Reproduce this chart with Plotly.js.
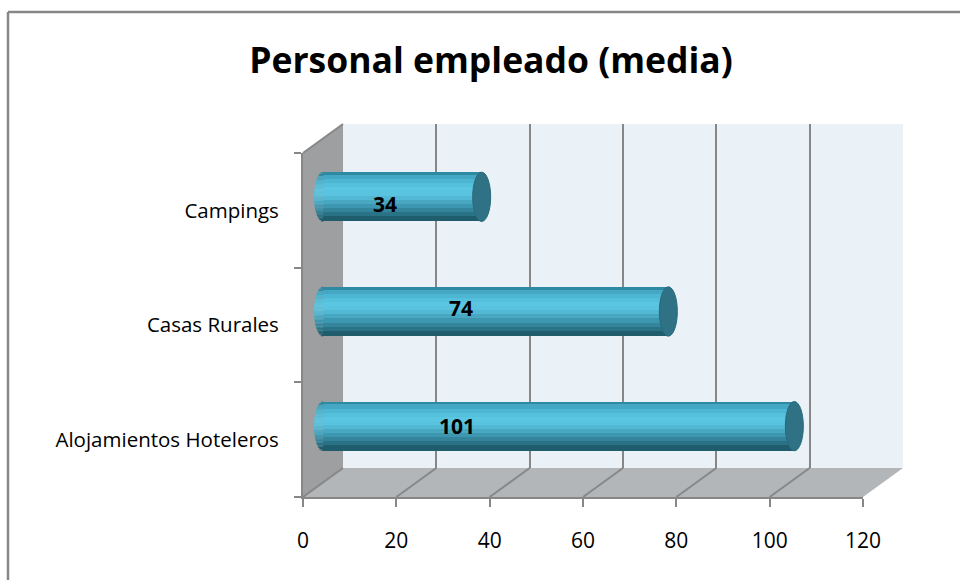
<!DOCTYPE html>
<html><head><meta charset="utf-8">
<script src="https://cdn.plot.ly/plotly-3.0.1.min.js"></script>
<style>html,body{margin:0;padding:0;background:#fff}</style>
</head><body>
<div id="chart" style="width:960px;height:580px"></div>
<script>
// ---- data ----
const categories = ["Alojamientos Hoteleros", "Casas Rurales", "Campings"];
const values = [101, 74, 34];
const xTicks = [0, 20, 40, 60, 80, 100, 120];
const xTickLabels = ["0", "20", "40", "60", "80", "100", "120"];
const chartTitle = "Personal empleado (media)";

// ---- style / geometry ----
const W = 960, H = 580;
const px = x => x / W, py = y => 1 - y / H;
const FRONT = {x0: 303, x1: 863, y0: 153, y1: 497};
const DEPTH = {dx: 40, dy: -29};
const MID = {dx: 20, dy: -14.5};
const X_MAX = 120, X_PAD = 5;
const SCALE = (FRONT.x1 - FRONT.x0) / X_MAX;
const labelPos = [28.7, 29.6, 13.3];
const labelShift = [0, 4, -7];
const BAR_W = 0.43;
const CAP = 9;
const GRID = '#878787';
const FONT = 'Open Sans';
const stripeColors = ['#2e8aa2', '#44a8c4', '#4db6d2', '#55c0dc', '#5bc6e2', '#5ac4e0',
                      '#52b8d4', '#48a8c2', '#3e97b0', '#34859c', '#2a7386', '#1f5d6d'];

const traces = [];
// category registration on the front axis
traces.push({type: 'scatter', x: values, y: categories, xaxis: 'x', yaxis: 'y', mode: 'markers',
  marker: {opacity: 0}, hoverinfo: 'skip', showlegend: false});
traces.push({type: 'scatter', x: [], y: [], xaxis: 'x2', yaxis: 'y2', hoverinfo: 'skip', showlegend: false});
// cylinder bars as horizontal stripes
const n = stripeColors.length, sw = BAR_W / n;
stripeColors.forEach((c, i) => {
  traces.push({type: 'bar', orientation: 'h', x: values, y: categories, xaxis: 'x3', yaxis: 'y3',
    offset: BAR_W / 2 - (i + 1) * sw, width: i === 0 ? sw : sw * 1.3,
    marker: {color: c, line: {width: 0}}, hoverinfo: 'skip', showlegend: false});
});

const shapes = [];
// chart frame
shapes.push({type: 'line', xref: 'paper', yref: 'paper', x0: px(8), x1: px(960), y0: py(12), y1: py(12), line: {color: GRID, width: 2.5}});
shapes.push({type: 'line', xref: 'paper', yref: 'paper', x0: px(8), x1: px(8), y0: py(12), y1: py(580), line: {color: GRID, width: 2.5}});
// back wall
shapes.push({type: 'rect', xref: 'x2 domain', yref: 'y2 domain', x0: 0, x1: 1, y0: 0, y1: 1,
  fillcolor: '#eaf2f8', line: {width: 0}, layer: 'below'});
// side wall
const sidePath = `M${px(FRONT.x0)},${py(FRONT.y0)} L${px(FRONT.x0 + DEPTH.dx)},${py(FRONT.y0 + DEPTH.dy)} L${px(FRONT.x0 + DEPTH.dx)},${py(FRONT.y1 + DEPTH.dy)} L${px(FRONT.x0)},${py(FRONT.y1)} Z`;
shapes.push({type: 'path', xref: 'paper', yref: 'paper', path: sidePath, fillcolor: '#9d9fa1', line: {width: 0}, layer: 'below'});
// floor
const floorPath = `M${px(FRONT.x0)},${py(FRONT.y1)} L${px(FRONT.x0 + DEPTH.dx)},${py(FRONT.y1 + DEPTH.dy)} L${px(FRONT.x1 + DEPTH.dx)},${py(FRONT.y1 + DEPTH.dy)} L${px(FRONT.x1)},${py(FRONT.y1)} Z`;
shapes.push({type: 'path', xref: 'paper', yref: 'paper', path: floorPath, fillcolor: '#b3b6b9', line: {width: 0}, layer: 'below'});
// side wall top slant edge
shapes.push({type: 'line', xref: 'paper', yref: 'paper', x0: px(FRONT.x0), y0: py(FRONT.y0), x1: px(FRONT.x0 + DEPTH.dx), y1: py(FRONT.y0 + DEPTH.dy),
  line: {color: GRID, width: 2}, layer: 'below'});
// floor gridlines (diagonals from each tick)
xTicks.forEach(v => {
  shapes.push({type: 'line', xref: 'x', xsizemode: 'pixel', xanchor: v, x0: 0, x1: DEPTH.dx,
    yref: 'paper', y0: py(FRONT.y1), y1: py(FRONT.y1 + DEPTH.dy), line: {color: GRID, width: 2}, layer: 'below'});
});
// cylinder end caps
const SUB = 3; // sub-stripes per colour stripe for the rounded left end
values.forEach((v, i) => {
  const top = i + BAR_W / 2;
  for (let k = 0; k < n * SUB; k++) {
    const yHi = top - k * sw / SUB, yLo = yHi - sw / SUB;
    const t = ((yHi + yLo) / 2 - i) / (BAR_W / 2);
    const hw = CAP * Math.sqrt(Math.max(0, 1 - t * t));
    shapes.push({type: 'rect', xref: 'x3', yref: 'y3', xsizemode: 'pixel', xanchor: 0, x0: -hw, x1: 0.5,
      y0: yLo, y1: yHi, fillcolor: stripeColors[Math.floor(k / SUB)], line: {width: 0}, layer: 'above'});
  }
  shapes.push({type: 'circle', xref: 'x3', yref: 'y3', xsizemode: 'pixel', xanchor: v, x0: -CAP, x1: CAP,
    y0: i - BAR_W / 2, y1: i + BAR_W / 2, fillcolor: '#2f7285', line: {color: '#2a6a7a', width: 1}, layer: 'above'});
});

const annotations = values.map((v, i) => ({
  xref: 'x3', yref: 'y3', x: labelPos[i], y: i, yshift: labelShift[i], text: String(v), showarrow: false,
  font: {family: FONT, size: 21, color: '#000', weight: 'bold'}
}));

const layout = {
  width: W, height: H, margin: {l: 0, r: 0, t: 0, b: 0},
  paper_bgcolor: '#ffffff', plot_bgcolor: 'rgba(0,0,0,0)',
  barmode: 'overlay', bargap: 0, showlegend: false,
  title: {text: chartTitle, x: 491 / W, xanchor: 'center', y: py(61), yanchor: 'middle',
    font: {family: FONT, size: 35.5, color: '#000', weight: 'bold'}},
  xaxis: {domain: [px(FRONT.x0), px(FRONT.x1)], range: [0, X_MAX], anchor: 'y',
    tickmode: 'array', tickvals: xTicks, ticktext: xTickLabels,
    ticks: 'outside', ticklen: 8, tickwidth: 2, tickcolor: GRID,
    showline: true, linecolor: GRID, linewidth: 2, showgrid: false, zeroline: false,
    tickfont: {family: FONT, size: 21, color: '#000'}, ticklabelstandoff: 16, fixedrange: true},
  yaxis: {domain: [py(FRONT.y1), py(FRONT.y0)], type: 'category', categoryorder: 'array', categoryarray: categories,
    range: [-0.5, 2.5], anchor: 'x', tickson: 'boundaries',
    ticks: 'outside', ticklen: 7, tickwidth: 2, tickcolor: GRID,
    showline: true, linecolor: GRID, linewidth: 2, showgrid: false, zeroline: false,
    tickfont: {family: FONT, size: 20.5, color: '#000'}, ticklabelstandoff: 18, fixedrange: true},
  xaxis2: {domain: [px(FRONT.x0 + DEPTH.dx), px(FRONT.x1 + DEPTH.dx)], range: [0, X_MAX], anchor: 'y2',
    tickmode: 'array', tickvals: xTicks, showticklabels: false, ticks: '',
    showgrid: true, gridcolor: GRID, gridwidth: 2, showline: false, zeroline: false, fixedrange: true},
  yaxis2: {domain: [py(FRONT.y1 + DEPTH.dy), py(FRONT.y0 + DEPTH.dy)], range: [0, 1], anchor: 'x2',
    showgrid: false, showticklabels: false, ticks: '', showline: false, zeroline: false, fixedrange: true},
  xaxis3: {domain: [px(FRONT.x0 + MID.dx - X_PAD * SCALE), px(FRONT.x1 + MID.dx)], range: [-X_PAD, X_MAX], anchor: 'y3', visible: false, fixedrange: true},
  yaxis3: {domain: [py(FRONT.y1 + MID.dy + 1), py(FRONT.y0 + MID.dy + 1)], type: 'category', categoryorder: 'array',
    categoryarray: categories, range: [-0.5, 2.5], anchor: 'x3', visible: false, fixedrange: true},
  shapes: shapes,
  annotations: annotations
};

Plotly.newPlot('chart', traces, layout, {displayModeBar: false, staticPlot: true});
</script>
</body></html>
